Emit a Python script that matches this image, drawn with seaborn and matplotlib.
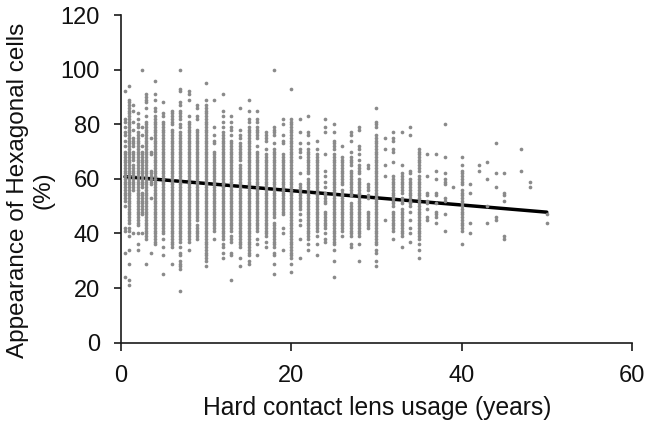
"""
plot.py
Hexagonal cell appearance vs hard contact lens usage (values read off the picture)
"""

import matplotlib
matplotlib.use("Agg")
import matplotlib.pyplot as plt
import pandas as pd
import seaborn as sns

# years of usage -> readings (%) in that column
usage_years = [
    0.5, 1, 1.5, 2, 2.5, 3, 3.5, 4, 5, 6, 7, 8, 9, 10, 11, 12, 13, 14, 15, 16,
    17, 18, 19, 20, 21, 22, 23, 24, 25, 26, 27, 28, 29, 30, 31, 32, 33, 34, 35,
    36, 37, 38, 39, 40, 41, 42, 43, 44, 45, 47, 48, 50,
]
hexagonal_pct = [
    [92, 82, 81, 79, 77, 76, 74, 72, 70, 69, 68, 67, 66, 65, 64, 63, 62, 61, 60, 59, 58, 57, 56, 55, 54, 53, 52, 50, 42, 41, 33, 24],
    [94, 89, 88, 87, 86, 85, 84, 83, 82, 81, 80, 79, 78, 77, 76, 75, 74, 73, 72, 71, 70, 69, 68, 67, 66, 65, 64, 63, 62, 61, 60, 59, 58, 57, 56, 55, 54, 53, 52, 51, 50, 49, 48, 47, 46, 45, 44, 42, 41, 39, 34, 29, 23, 21],
    [87, 85, 81, 78, 75, 74, 73, 72, 70, 69, 68, 67, 65, 64, 63, 62, 61, 60, 59, 58, 57, 56, 40],
    [84, 82, 80, 79, 77, 76, 75, 74, 73, 72, 71, 70, 69, 68, 67, 66, 65, 64, 63, 62, 61, 60, 59, 58, 57, 56, 55, 54, 53, 52, 51, 50, 49, 48, 47, 46, 45, 44, 43, 40, 36, 34],
    [100, 79, 76, 72, 70, 69, 68, 67, 66, 65, 64, 63, 62, 61, 60, 59, 58, 57, 55, 54, 53, 52, 51, 50, 49, 48, 47, 40],
    [91, 90, 89, 88, 86, 83, 81, 80, 79, 78, 77, 76, 75, 74, 73, 72, 71, 70, 69, 68, 67, 66, 65, 64, 63, 62, 61, 60, 59, 58, 57, 56, 55, 54, 53, 52, 51, 50, 49, 48, 47, 46, 45, 44, 43, 42, 41, 40, 39, 38, 29],
    [75, 70, 69, 63, 62, 61, 60, 59, 58, 53, 33],
    [96, 91, 89, 86, 85, 83, 82, 81, 80, 79, 78, 77, 76, 75, 74, 73, 72, 71, 70, 69, 68, 67, 66, 65, 64, 63, 62, 61, 60, 59, 58, 57, 56, 55, 54, 53, 52, 51, 50, 49, 48, 47, 46, 45, 44, 43, 42, 41, 40, 39, 38, 37, 36],
    [88, 84, 83, 81, 80, 79, 78, 77, 76, 75, 74, 73, 72, 71, 70, 69, 68, 67, 66, 65, 64, 63, 62, 61, 60, 59, 58, 57, 56, 55, 54, 53, 52, 51, 50, 49, 48, 47, 46, 45, 44, 43, 42, 41, 40, 38, 35, 32, 25],
    [85, 84, 83, 82, 81, 80, 78, 77, 76, 75, 74, 73, 72, 71, 70, 69, 68, 67, 66, 65, 64, 63, 62, 61, 60, 59, 58, 57, 56, 55, 54, 53, 52, 51, 50, 49, 48, 47, 46, 45, 44, 43, 42, 41, 40, 39, 38, 37, 36, 35, 29],
    [100, 93, 92, 88, 87, 85, 84, 83, 82, 80, 79, 77, 76, 75, 74, 73, 72, 71, 70, 69, 68, 67, 66, 65, 64, 63, 62, 61, 60, 59, 58, 57, 56, 55, 54, 53, 52, 51, 50, 49, 48, 47, 46, 45, 44, 43, 42, 41, 40, 39, 38, 37, 35, 33, 32, 30, 29, 28, 27, 19],
    [92, 91, 89, 83, 81, 80, 79, 78, 77, 76, 75, 74, 73, 72, 71, 70, 69, 68, 67, 66, 65, 64, 63, 62, 61, 60, 59, 58, 57, 56, 55, 54, 53, 52, 51, 50, 49, 48, 47, 46, 45, 44, 43, 42, 41, 40, 39, 38, 37, 34],
    [87, 86, 83, 82, 78, 77, 76, 75, 74, 73, 72, 71, 70, 69, 68, 67, 66, 65, 64, 63, 62, 61, 60, 59, 58, 57, 56, 55, 54, 53, 52, 51, 50, 49, 48, 47, 46, 45, 43, 42, 41, 40, 39, 38],
    [95, 89, 87, 86, 85, 84, 83, 82, 81, 80, 79, 78, 77, 76, 75, 74, 73, 72, 71, 70, 69, 68, 67, 66, 65, 64, 63, 62, 61, 60, 59, 58, 57, 56, 55, 54, 53, 52, 51, 50, 49, 48, 47, 46, 45, 44, 43, 42, 41, 40, 39, 38, 37, 36, 35, 34, 33, 32, 31, 30, 28],
    [89, 79, 76, 74, 73, 70, 69, 68, 67, 66, 65, 64, 63, 62, 61, 60, 59, 58, 57, 56, 55, 54, 53, 52, 51, 50, 49, 48, 47, 46, 45, 44, 43, 42, 41, 38],
    [91, 85, 83, 81, 79, 77, 76, 75, 74, 73, 72, 71, 70, 69, 68, 67, 66, 65, 64, 63, 62, 61, 60, 59, 58, 57, 56, 55, 54, 53, 52, 51, 50, 49, 48, 47, 46, 45, 44, 43, 42, 41, 40, 39, 38, 36, 35, 33, 31],
    [83, 81, 79, 78, 76, 74, 73, 72, 71, 70, 69, 68, 67, 66, 65, 64, 63, 62, 61, 60, 59, 58, 57, 56, 55, 54, 53, 52, 51, 50, 49, 48, 47, 46, 45, 44, 43, 42, 41, 39, 38, 37, 33, 32, 23],
    [86, 78, 76, 75, 73, 72, 71, 70, 69, 68, 67, 65, 64, 63, 62, 61, 60, 59, 58, 57, 56, 55, 54, 53, 52, 51, 50, 49, 48, 47, 46, 45, 44, 43, 42, 41, 40, 39, 38, 37, 36, 35, 31, 28],
    [89, 85, 82, 81, 79, 78, 77, 76, 75, 74, 73, 72, 71, 70, 69, 68, 67, 66, 65, 64, 63, 62, 61, 60, 59, 58, 57, 56, 55, 54, 53, 52, 51, 50, 49, 48, 47, 46, 45, 44, 43, 42, 41, 40, 39, 38, 37, 36, 35, 34, 33, 32, 30, 29],
    [85, 82, 81, 79, 78, 77, 76, 75, 72, 70, 69, 68, 67, 66, 65, 64, 63, 62, 61, 60, 59, 58, 57, 56, 55, 54, 53, 52, 51, 50, 49, 48, 47, 46, 45, 44, 43, 42, 41, 38, 36, 32],
    [77, 76, 75, 74, 71, 69, 68, 67, 66, 65, 64, 63, 62, 61, 60, 59, 58, 57, 56, 55, 54, 53, 52, 51, 50, 49, 48, 47, 46, 45, 44, 43, 42, 41, 40, 39, 37, 35],
    [100, 79, 78, 77, 76, 73, 71, 70, 69, 68, 67, 66, 65, 64, 63, 62, 61, 60, 59, 58, 57, 56, 55, 54, 53, 52, 51, 50, 49, 48, 47, 46, 44, 43, 42, 41, 40, 39, 38, 37, 36, 35, 33, 32, 29, 25],
    [82, 80, 76, 74, 73, 69, 68, 67, 66, 65, 64, 63, 62, 61, 60, 59, 58, 57, 56, 55, 54, 53, 52, 51, 50, 49, 48, 47, 42, 40, 34],
    [93, 82, 81, 80, 79, 78, 77, 76, 75, 74, 73, 72, 71, 70, 69, 68, 67, 66, 65, 64, 63, 62, 61, 60, 59, 58, 57, 56, 55, 54, 53, 52, 51, 50, 49, 48, 47, 46, 45, 44, 43, 42, 41, 40, 39, 38, 37, 36, 35, 34, 33, 32, 31, 29, 26],
    [82, 77, 73, 71, 70, 68, 62, 58, 57, 56, 55, 54, 53, 52, 51, 50, 49, 47, 45, 43, 38, 31],
    [83, 77, 76, 73, 71, 70, 69, 68, 67, 66, 65, 64, 63, 62, 60, 59, 58, 57, 56, 55, 54, 53, 52, 51, 50, 49, 48, 47, 46, 45, 44, 43, 42, 41, 40, 39, 38, 36, 34],
    [74, 71, 69, 68, 67, 66, 65, 64, 63, 62, 61, 60, 59, 58, 57, 56, 55, 54, 53, 52, 51, 50, 49, 48, 47, 46, 45, 44, 43, 42, 41, 39, 36, 32],
    [82, 79, 77, 69, 63, 61, 59, 57, 55, 54, 53, 52, 51, 48, 47, 46, 45, 44, 43, 42, 40, 38, 37],
    [80, 77, 74, 73, 72, 71, 69, 68, 67, 66, 65, 64, 63, 62, 61, 60, 59, 58, 57, 56, 55, 54, 53, 52, 51, 50, 49, 48, 47, 46, 45, 44, 43, 42, 41, 40, 39, 38, 37, 36, 34, 30, 24],
    [72, 68, 67, 66, 65, 64, 63, 62, 61, 60, 59, 58, 56, 55, 54, 53, 52, 51, 50, 49, 48, 47, 46, 45, 44, 43, 42, 41, 39],
    [77, 76, 74, 70, 68, 67, 66, 65, 63, 62, 61, 60, 59, 58, 57, 56, 55, 54, 51, 50, 49, 48, 47, 46, 45, 44, 43, 42, 41, 40, 39, 36, 35],
    [79, 78, 72, 71, 69, 67, 65, 64, 63, 62, 60, 59, 58, 57, 56, 55, 54, 53, 52, 51, 50, 49, 48, 47, 46, 45, 44, 43, 42, 41, 40, 39, 36, 30],
    [65, 64, 58, 57, 56, 54, 53, 48, 47, 46, 45, 44, 43, 42],
    [86, 81, 80, 79, 76, 75, 74, 73, 72, 71, 70, 69, 68, 67, 66, 65, 64, 63, 62, 61, 60, 59, 58, 57, 56, 55, 54, 53, 52, 51, 50, 49, 48, 47, 46, 45, 44, 43, 42, 41, 40, 39, 38, 37, 36, 34, 33, 30, 28],
    [75, 71, 65, 61, 45],
    [77, 75, 74, 71, 70, 66, 61, 60, 59, 58, 57, 56, 55, 54, 53, 52, 51, 50, 48, 47, 46, 45, 44, 43, 42, 41, 38],
    [77, 65, 62, 61, 60, 59, 58, 57, 56, 55, 53, 52, 51, 49, 48, 47, 46, 45, 44, 43, 42, 41, 40, 39, 35],
    [79, 76, 63, 62, 60, 59, 58, 57, 56, 55, 54, 53, 52, 51, 50, 48, 45, 42, 40, 37],
    [71, 70, 69, 68, 67, 66, 65, 64, 63, 61, 60, 59, 58, 57, 56, 55, 54, 53, 52, 51, 50, 49, 48, 47, 46, 45, 44, 43, 42, 41, 40, 39, 38, 36, 34, 31],
    [69, 61, 55, 54, 52, 51, 49, 46, 45],
    [69, 63, 60, 55, 54, 51, 48, 47, 46, 44],
    [80, 68, 62, 60, 59, 58, 53, 52, 47, 41],
    [57],
    [68, 65, 63, 62, 61, 60, 59, 58, 56, 55, 54, 53, 52, 51, 50, 49, 48, 47, 46, 45, 44, 43, 42, 41, 36],
    [58, 55, 44, 40],
    [65, 63],
    [66, 60, 50, 44],
    [73, 62, 57, 46, 45],
    [62, 55, 54, 52, 39, 38],
    [71, 63],
    [59, 57],
    [47, 44],
]
trend_years = [0.5, 50]
trend_pct = [60.8, 47.8]

x_ticks = [0, 20, 40, 60]
y_ticks = [0, 20, 40, 60, 80, 100, 120]

sns.set_style("ticks")
plt.rcParams["font.family"] = ["Liberation Sans", "DejaVu Sans"]

df = pd.DataFrame({
    "years": [yr for yr, col in zip(usage_years, hexagonal_pct) for _ in col],
    "pct": [val for col in hexagonal_pct for val in col],
})
trend = pd.DataFrame({"years": trend_years, "pct": trend_pct})

fig, ax = plt.subplots(figsize=(6.46, 4.21), dpi=100)
fig.subplots_adjust(left=120.7 / 646, right=632 / 646, top=1 - 15 / 421, bottom=1 - 342.7 / 421)

# la droite passe sous les points, d'où l'aspect haché
sns.lineplot(data=trend, x="years", y="pct", color="black", linewidth=2.5,
             ax=ax, zorder=2)
sns.scatterplot(data=df, x="years", y="pct", color="#8a8a8a", s=7, marker="o",
                linewidth=0, ax=ax, zorder=3, clip_on=False)

ax.set_xlim(0, 60)
ax.set_ylim(0, 120)
ax.set_xticks(x_ticks)
ax.set_yticks(y_ticks)
ax.tick_params(axis="both", labelsize=17, length=5.4, width=1.2, color="#1a1a1a",
               labelcolor="#111111")
ax.tick_params(axis="x", pad=10.5)
ax.tick_params(axis="y", pad=9.5)
for side in ["left", "bottom"]:
    ax.spines[side].set_linewidth(1.2)
    ax.spines[side].set_color("#1a1a1a")
sns.despine(ax=ax)

ax.set_xlabel("Hard contact lens usage (years)", fontsize=17.7, color="#111111", va="top")
ax.set_ylabel("Appearance of Hexagonal cells\n(%)", fontsize=17.5, color="#111111",
              linespacing=1.2)
ax.xaxis.set_label_coords((377 - 120.7) / 511.3, -(396 - 342.7) / 327.7)
ax.yaxis.set_label_coords((54 - 120.7) / 511.3, (342.7 - 190) / 327.7)

fig.savefig("out.png", dpi=100)
